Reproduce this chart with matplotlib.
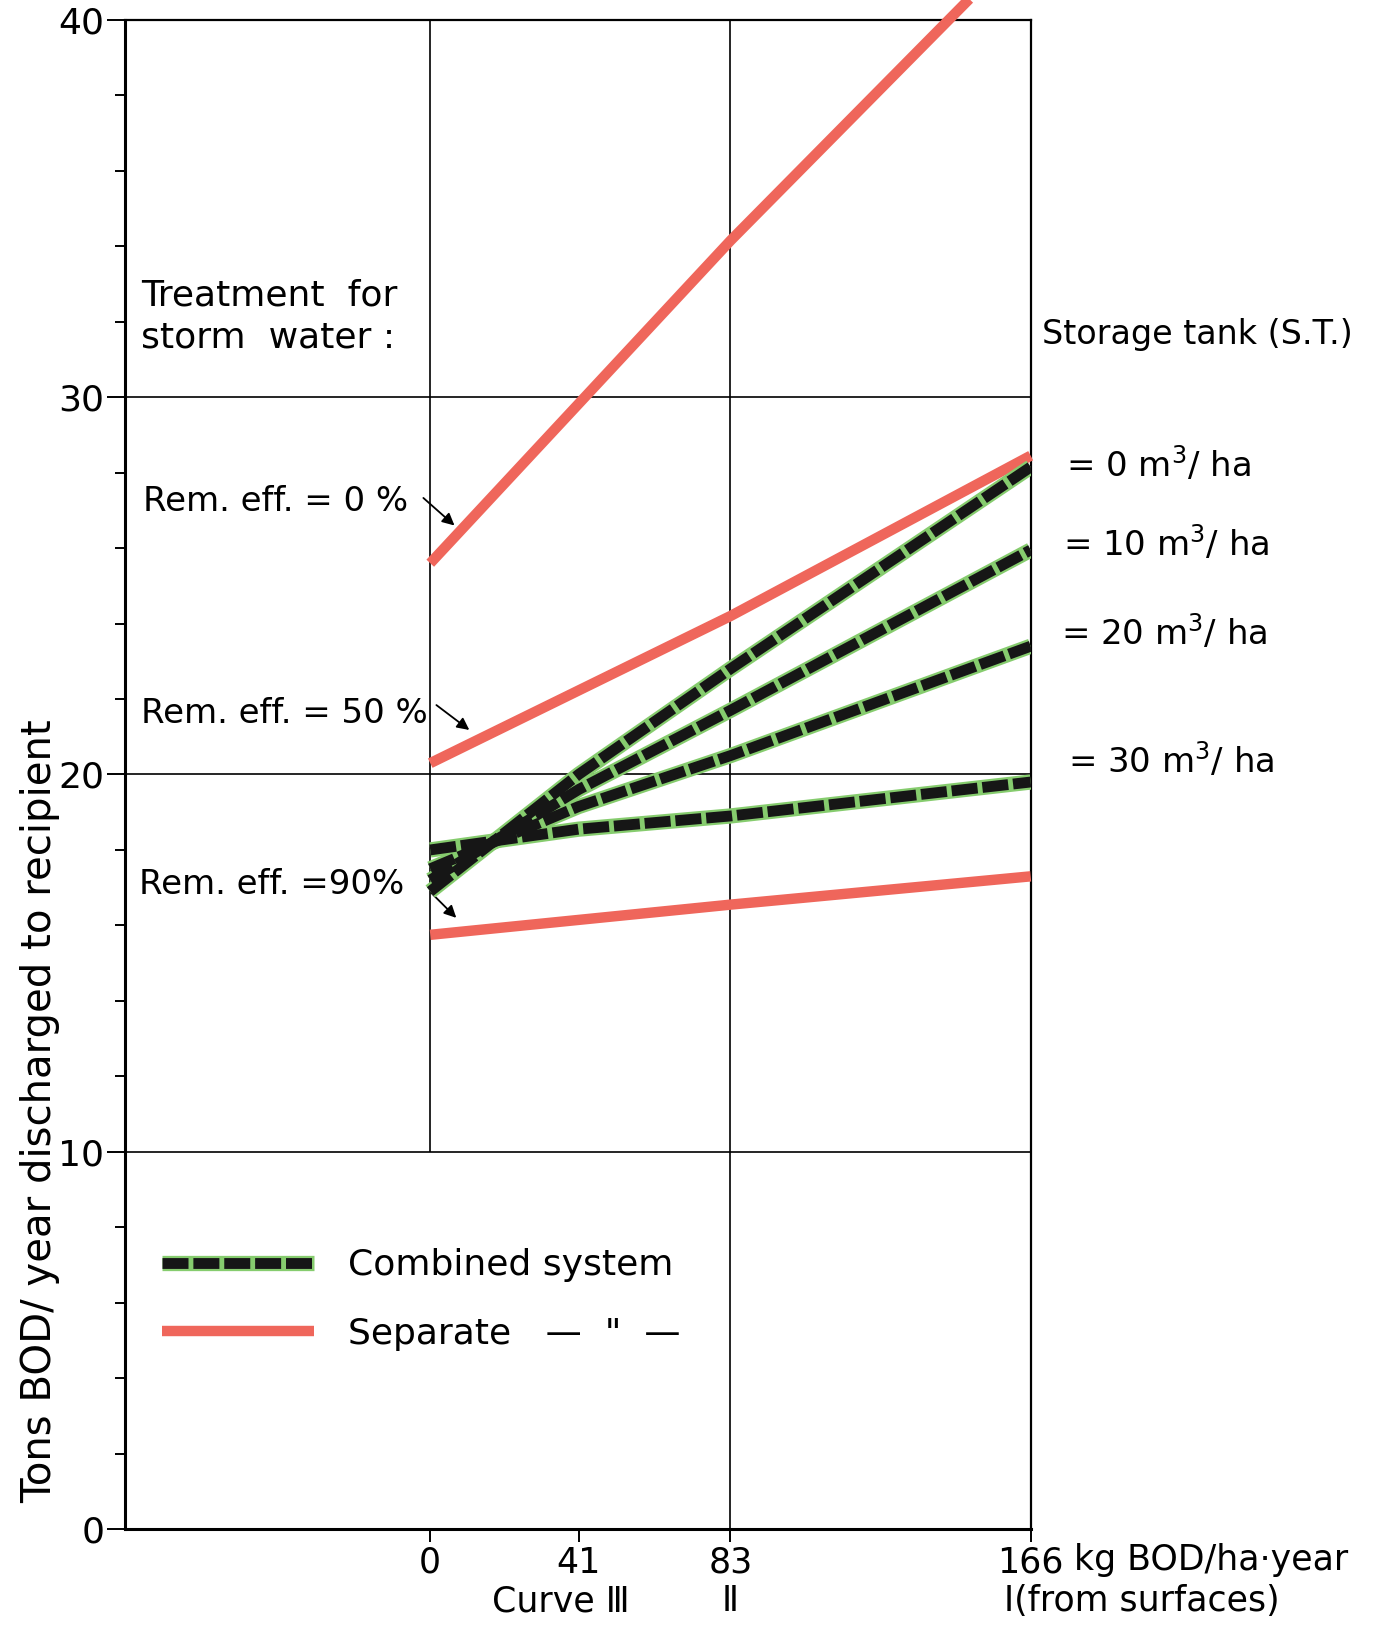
import matplotlib
matplotlib.use("Agg")
import matplotlib.pyplot as plt
from matplotlib.ticker import MultipleLocator
from matplotlib.legend_handler import HandlerTuple

# DATA - - - - - - - - - - - - - - - - - - - - - - - - - - - - - - - - - - - - - -
load_x = [0, 41, 83, 166]          # kg BOD/ha.year
combined_0 = [16.9, 20.0, 22.8, 28.15]
combined_10 = [17.2, 19.6, 21.7, 25.95]
combined_20 = [17.5, 19.15, 20.5, 23.4]
combined_30 = [18.0, 18.55, 18.9, 19.8]

sep_x = [0, 83, 166]
separate_0 = [25.6, 34.15, 42.2]
separate_50 = [20.3, 24.2, 28.45]
separate_90 = [15.75, 16.55, 17.3]

tank_labels = [r"= 0 m$^3$/ ha", r"= 10 m$^3$/ ha", r"= 20 m$^3$/ ha", r"= 30 m$^3$/ ha"]
eff_labels = ["Rem. eff. = 0 %", "Rem. eff. = 50 %", "Rem. eff. =90%"]
x_ticks = [0, 41, 83, 166]
x_ticklabels = ["0", "41", "83", "166"]
y_ticks = [0, 10, 20, 30, 40]

RED = "#ef665b"
GREEN = "#86cc6e"
BLACK = "#161616"

plt.rcParams["font.family"] = ["DejaVu Sans"]

fig = plt.figure(figsize=(13.87, 16.36), dpi=100)
ax = fig.add_axes([0.0901, 0.0654, 0.6530, 0.9224])
ax.set_xlim(-84.4, 166)
ax.set_ylim(0, 40)

# grid / frame - - - - - - - - - - - - - - - - - - - - - - - - - - - - - - - - - -
for yy in [10, 20, 30]:
    ax.axhline(yy, color="black", lw=1.2, zorder=1)
ax.vlines(0, 10, 40, color="black", lw=1.2, zorder=1)
ax.axvline(83, color="black", lw=1.2, zorder=1)
for s in ["left", "bottom"]:
    ax.spines[s].set_linewidth(2.2)
for s in ["top", "right"]:
    ax.spines[s].set_linewidth(1.6)

# separate system (red) - - - - - - - - - - - - - - - - - - - - - - - - - - - - - -
for ys in [separate_0, separate_50, separate_90]:
    ax.plot(sep_x, ys, color=RED, lw=7.5, solid_capstyle="butt", zorder=3, clip_on=False)

# combined system (black dashes on green) - - - - - - - - - - - - - - - - - - - - -
for ys in [combined_30, combined_20, combined_10, combined_0]:
    ax.plot(load_x, ys, color=GREEN, lw=11, solid_capstyle="butt", zorder=4)
    ax.plot(load_x, ys, color=BLACK, lw=7.8, dashes=(2.4, 0.45),
            dash_capstyle="butt", zorder=5)

# ticks - - - - - - - - - - - - - - - - - - - - - - - - - - - - - - - - - - - - - -
ax.set_yticks(y_ticks)
ax.yaxis.set_minor_locator(MultipleLocator(2))
ax.tick_params(axis="y", which="major", direction="out", length=13, width=1.4,
               pad=2, labelsize=26)
ax.tick_params(axis="y", which="minor", direction="out", length=7, width=1.4)
ax.set_xticks(x_ticks)
ax.set_xticklabels(x_ticklabels)
ax.tick_params(axis="x", which="major", direction="out", length=9, width=1.4,
               pad=3, labelsize=25)

ax.set_ylabel("Tons BOD/ year discharged to recipient", fontsize=29)
ax.yaxis.set_label_coords(-0.072, 0.277)

xt = ax.get_xaxis_transform()
ax.text(178, -0.0205, "kg BOD/ha·year", transform=xt, fontsize=25,
        ha="left", va="center", clip_on=False)
ax.text(55, -0.048, "Curve Ⅲ", transform=xt, fontsize=25, ha="right",
        va="center", clip_on=False)
ax.text(83, -0.048, "Ⅱ", transform=xt, fontsize=25, ha="center",
        va="center", clip_on=False)
ax.text(158.6, -0.048, "Ⅰ(from surfaces)", transform=xt, fontsize=25,
        ha="left", va="center", clip_on=False)

# annotations - - - - - - - - - - - - - - - - - - - - - - - - - - - - - - - - - - -
ax.text(-80, 32.44, "Treatment  for", fontsize=26, ha="left", va="baseline")
ax.text(-80, 31.31, "storm  water :", fontsize=26, ha="left", va="baseline")

eff_pos = [(-79.4, 26.98), (-80.0, 21.36), (-80.5, 16.83)]
arrows = [((-1.9, 27.33), (6.7, 26.6)), ((1.7, 21.84), (10.8, 21.18)),
          ((0.3, 16.86), (7.2, 16.2))]
for lab, (tx, ty), (tail, tip) in zip(eff_labels, eff_pos, arrows):
    ax.text(tx, ty, lab, fontsize=24.5, ha="left", va="baseline")
    ax.annotate("", xy=tip, xytext=tail,
                arrowprops=dict(arrowstyle="-|>", color="black", lw=1.3,
                                mutation_scale=18, shrinkA=0, shrinkB=0))

ax.text(169.2, 31.4, "Storage tank (S.T.)", fontsize=24, ha="left",
        va="baseline", clip_on=False)
tank_pos = [(175.8, 27.9), (175.0, 25.8), (174.4, 23.45), (176.4, 20.06)]
for lab, (tx, ty) in zip(tank_labels, tank_pos):
    ax.text(tx, ty, lab, fontsize=24.5, ha="left", va="baseline", clip_on=False)

# legend - - - - - - - - - - - - - - - - - - - - - - - - - - - - - - - - - - - - -
h_green, = ax.plot([], [], color=GREEN, lw=11, solid_capstyle="butt")
h_black, = ax.plot([], [], color=BLACK, lw=7.8, dashes=(2.4, 0.45),
                   dash_capstyle="butt")
h_red, = ax.plot([], [], color=RED, lw=7.5, solid_capstyle="butt")
ax.legend([(h_green, h_black), h_red],
          ["Combined system", 'Separate   —  "  —'],
          handler_map={tuple: HandlerTuple(ndivide=1, pad=0)},
          loc="center left", bbox_to_anchor=(0.041, 0.152), frameon=False,
          fontsize=26, handlelength=4.2, handletextpad=0.95,
          labelspacing=0.95, borderpad=0, borderaxespad=0)

fig.savefig("out.png", dpi=100)
